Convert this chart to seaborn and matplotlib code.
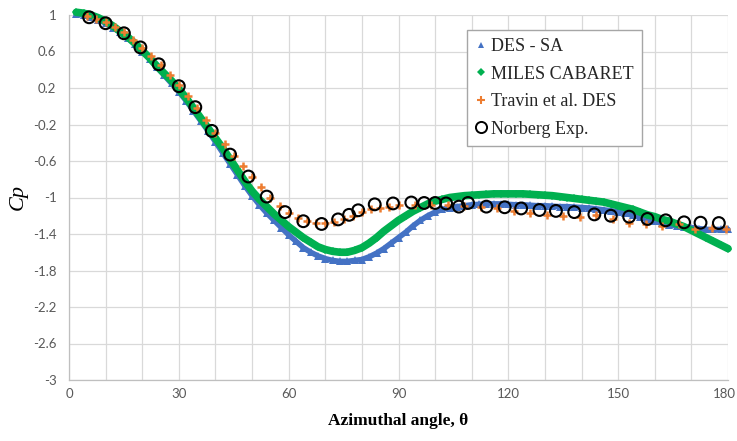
import numpy as np
import pandas as pd
import seaborn as sns
import matplotlib
matplotlib.use("Agg")
import matplotlib.pyplot as plt
import matplotlib.transforms as mtransforms
from matplotlib.lines import Line2D

# ---------------- data ----------------
# DES - SA (every 2 degrees)
des_theta = list(range(2, 181, 2))
des_cp = [1.01, 1.00, 0.98, 0.95, 0.91, 0.86, 0.81, 0.75, 0.68, 0.60,
          0.52, 0.43, 0.34, 0.25, 0.16, 0.06, -0.05, -0.16, -0.27, -0.39,
          -0.51, -0.63, -0.75, -0.87, -0.98, -1.08, -1.17, -1.25, -1.33, -1.41,
          -1.48, -1.55, -1.60, -1.64, -1.67, -1.69, -1.70, -1.70, -1.69, -1.68,
          -1.65, -1.61, -1.56, -1.50, -1.44, -1.38, -1.31, -1.25, -1.20, -1.16,
          -1.13, -1.11, -1.10, -1.09, -1.08, -1.075, -1.07, -1.07, -1.07, -1.075,
          -1.08, -1.08, -1.085, -1.09, -1.09, -1.095, -1.10, -1.10, -1.105, -1.11,
          -1.115, -1.125, -1.135, -1.145, -1.16, -1.175, -1.195, -1.215, -1.24, -1.26,
          -1.28, -1.30, -1.31, -1.32, -1.33, -1.34, -1.35, -1.35, -1.35, -1.35]

# MILES CABARET (every 2 degrees)
miles_theta = list(range(2, 181, 2))
miles_cp = [1.03, 1.02, 1.00, 0.97, 0.93, 0.88, 0.82, 0.76, 0.69, 0.61,
            0.53, 0.44, 0.36, 0.28, 0.19, 0.09, -0.02, -0.13, -0.24, -0.35,
            -0.46, -0.58, -0.70, -0.82, -0.93, -1.02, -1.10, -1.18, -1.25, -1.32,
            -1.38, -1.44, -1.49, -1.54, -1.57, -1.59, -1.60, -1.60, -1.58, -1.55,
            -1.50, -1.44, -1.37, -1.31, -1.25, -1.20, -1.15, -1.11, -1.07, -1.04,
            -1.02, -1.00, -0.99, -0.98, -0.975, -0.97, -0.965, -0.96, -0.96, -0.96,
            -0.96, -0.96, -0.965, -0.97, -0.975, -0.98, -0.99, -1.00, -1.01, -1.02,
            -1.03, -1.04, -1.05, -1.07, -1.09, -1.11, -1.13, -1.16, -1.19, -1.21,
            -1.24, -1.26, -1.29, -1.32, -1.36, -1.40, -1.44, -1.48, -1.52, -1.56]

# Travin et al. DES
travin_theta = [5, 7.5, 10, 12.5, 15, 17.5, 20, 22.5, 25, 27.5, 30, 32.5, 35, 37.5,
                40, 42.5, 45, 47.5, 50, 52.5, 55, 57.5, 60, 62.5, 65, 67.5, 70,
                72.5, 75, 77.5, 80, 82.5, 85, 87.5, 90, 94.5, 99, 103.5, 108,
                112.5, 117, 121.5, 126, 130.5, 135, 139.5, 144, 148.5, 153,
                157.5, 162, 166.5, 171, 175.5, 179.5]
travin_cp = [0.99, 0.96, 0.92, 0.87, 0.81, 0.73, 0.64, 0.55, 0.45, 0.34, 0.23, 0.11,
             -0.02, -0.15, -0.29, -0.41, -0.54, -0.66, -0.78, -0.89, -1.00, -1.09,
             -1.17, -1.22, -1.26, -1.28, -1.28, -1.27, -1.24, -1.20, -1.16, -1.13,
             -1.11, -1.10, -1.08, -1.08, -1.08, -1.08, -1.09, -1.10, -1.12, -1.145,
             -1.17, -1.19, -1.20, -1.215, -1.19, -1.24, -1.275, -1.29, -1.31, -1.29,
             -1.34, -1.33, -1.34]

# Norberg experiment
norberg_theta = [5.5, 10, 15, 19.5, 24.5, 30, 34.5, 39, 44, 49, 54, 59, 64, 69,
                 73.5, 76.5, 79, 83.5, 88.5, 93.5, 97, 100, 103, 106.5, 109, 114,
                 119, 123.5, 128.5, 133, 138, 143.5, 148, 153, 158, 163, 168,
                 172.5, 177.5]
norberg_cp = [0.975, 0.91, 0.80, 0.645, 0.46, 0.22, -0.01, -0.27, -0.53, -0.77,
              -0.99, -1.16, -1.26, -1.29, -1.24, -1.19, -1.14, -1.075, -1.065,
              -1.055, -1.06, -1.06, -1.065, -1.10, -1.06, -1.10, -1.107, -1.12,
              -1.137, -1.147, -1.16, -1.185, -1.20, -1.21, -1.235, -1.25, -1.272,
              -1.276, -1.28]

x_ticks = [0, 30, 60, 90, 120, 150, 180]
y_ticks = [1, 0.6, 0.2, -0.2, -0.6, -1, -1.4, -1.8, -2.2, -2.6, -3]
y_tick_labels = ["1", "0.6", "0.2", "-0.2", "-0.6", "-1", "-1.4", "-1.8", "-2.2", "-2.6", "-3"]

# ---------------- style ----------------
sns.set_theme(style="white")
plt.rcParams["font.family"] = ["Lato", "DejaVu Sans"]

c_des = "#4472c4"
c_miles = "#00b050"
c_travin = "#ed7d31"

fig = plt.figure(figsize=(7.37, 4.41), dpi=100)
ax = fig.add_axes([69 / 737, 61 / 441, (728 - 69) / 737, (380 - 15) / 441])

des = pd.DataFrame({"theta": des_theta, "cp": des_cp})
miles = pd.DataFrame({"theta": miles_theta, "cp": miles_cp})
travin = pd.DataFrame({"theta": travin_theta, "cp": travin_cp})
norberg = pd.DataFrame({"theta": norberg_theta, "cp": norberg_cp})

sns.lineplot(data=des, x="theta", y="cp", ax=ax, color=c_des, lw=4.0,
             marker="^", markersize=6, markeredgewidth=0, sort=False, zorder=3,
             clip_on=False)
sns.lineplot(data=miles, x="theta", y="cp", ax=ax, color=c_miles, lw=5.5,
             marker="D", markersize=4, markeredgewidth=0, sort=False, zorder=4,
             clip_on=False)
sns.scatterplot(data=travin, x="theta", y="cp", ax=ax, color=c_travin, marker="+",
                s=40, linewidth=1.8, zorder=5, clip_on=False)
sns.scatterplot(data=norberg, x="theta", y="cp", ax=ax, facecolor="none",
                edgecolor="black", marker="o", s=72, linewidth=1.5, zorder=6,
                clip_on=False)

ax.set_xlim(0, 180)
ax.set_ylim(-3, 1)
ax.set_xticks(np.arange(0, 181, 10), minor=True)
ax.set_xticks(x_ticks)
ax.set_yticks(y_ticks)
ax.set_yticklabels(y_tick_labels)
ax.grid(True, which="both", axis="x", color="#d9d9d9", lw=0.9)
ax.grid(True, which="major", axis="y", color="#d9d9d9", lw=0.9)
ax.set_axisbelow(True)
ax.tick_params(which="both", length=0, labelsize=9.5, colors="#595959")
ax.tick_params(axis="x", pad=6)
ax.tick_params(axis="y", pad=9)

# keep the last x tick label inside the canvas
last = ax.get_xticklabels()[-1]
last.set_transform(last.get_transform() +
                   mtransforms.ScaledTranslation(-4 / 100, 0, fig.dpi_scale_trans))

for side in ["top", "right"]:
    ax.spines[side].set_visible(False)
for side in ["left", "bottom"]:
    ax.spines[side].set_color("#bfbfbf")
    ax.spines[side].set_linewidth(0.9)

ax.set_xlabel("Azimuthal angle, θ", family="Liberation Serif", fontweight="bold",
              fontsize=12.5, color="black", labelpad=9)
ax.set_ylabel("Cp", family="Liberation Serif", fontstyle="italic",
              fontsize=16, color="black", labelpad=4)

handles = [
    Line2D([], [], ls="none", marker="^", markersize=4, color=c_des, markeredgewidth=0),
    Line2D([], [], ls="none", marker="D", markersize=4, color=c_miles, markeredgewidth=0),
    Line2D([], [], ls="none", marker="+", markersize=6, color=c_travin, markeredgewidth=1.5),
    Line2D([], [], ls="none", marker="o", markersize=8, markerfacecolor="none",
           markeredgecolor="black", markeredgewidth=1.4),
]
labels = ["DES - SA", "MILES CABARET", "Travin et al. DES", "Norberg Exp."]
leg = ax.legend(handles, labels, loc="upper left", bbox_to_anchor=((467 - 69) / 659, (380 - 30) / 365),
                prop={"family": "Liberation Serif", "size": 13}, frameon=True,
                fancybox=False, edgecolor="#a6a6a6", framealpha=1, handlelength=0.7,
                handletextpad=0.2, labelspacing=0.58, borderpad=0.45, borderaxespad=0)
leg.get_frame().set_linewidth(1.0)
leg.set_zorder(10)

fig.savefig("out.png", dpi=100)
